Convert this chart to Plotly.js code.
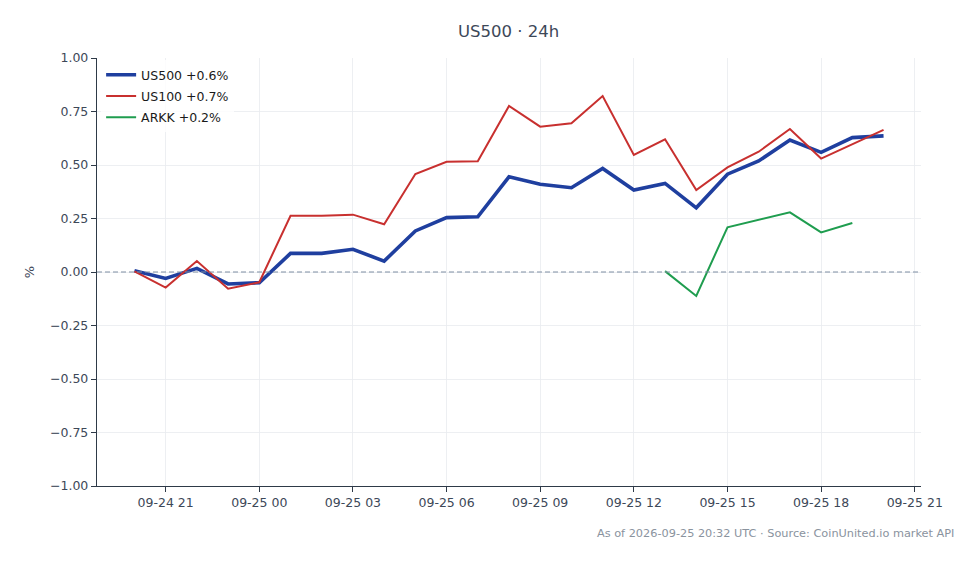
<!DOCTYPE html>
<html>
<head>
<meta charset="utf-8">
<script src="https://cdn.plot.ly/plotly-3.0.1.min.js"></script>
<style>
    html, body { margin: 0; padding: 0; background: #ffffff; }
    #plot { width: 978px; height: 564px; }
</style>
</head>
<body>
<div id="plot"></div>
<script>
// hourly points, 09-24 20:00 .. 09-25 20:00 UTC
const times = [
    "2026-09-24 20:00", "2026-09-24 21:00", "2026-09-24 22:00", "2026-09-24 23:00",
    "2026-09-25 00:00", "2026-09-25 01:00", "2026-09-25 02:00", "2026-09-25 03:00",
    "2026-09-25 04:00", "2026-09-25 05:00", "2026-09-25 06:00", "2026-09-25 07:00",
    "2026-09-25 08:00", "2026-09-25 09:00", "2026-09-25 10:00", "2026-09-25 11:00",
    "2026-09-25 12:00", "2026-09-25 13:00", "2026-09-25 14:00", "2026-09-25 15:00",
    "2026-09-25 16:00", "2026-09-25 17:00", "2026-09-25 18:00", "2026-09-25 19:00",
    "2026-09-25 20:00"
];

const us500 = [0.006, -0.030, 0.017, -0.056, -0.050, 0.087, 0.087, 0.106, 0.051, 0.192,
    0.254, 0.258, 0.445, 0.410, 0.394, 0.484, 0.383, 0.414, 0.300, 0.457,
    0.519, 0.617, 0.559, 0.628, 0.636];

const us100 = [0.003, -0.073, 0.051, -0.078, -0.048, 0.263, 0.263, 0.268, 0.223, 0.458,
    0.515, 0.517, 0.776, 0.679, 0.695, 0.822, 0.547, 0.620, 0.383, 0.489,
    0.562, 0.668, 0.530, 0.598, 0.664];

const arkk = [null, null, null, null, null, null, null, null, null, null,
    null, null, null, null, null, null, null, 0.004, -0.112, 0.209,
    0.243, 0.279, 0.185, 0.229, null];

const names = ["US500 +0.6%", "US100 +0.7%", "ARKK +0.2%"];
const colors = ["#1f3f9f", "#c8302f", "#1f9d4f"];
const widths = [3.6, 2, 2];

const y_ticks = [-1, -0.75, -0.5, -0.25, 0, 0.25, 0.5, 0.75, 1];
const x_ticks = [
    "2026-09-24 21:00", "2026-09-25 00:00", "2026-09-25 03:00", "2026-09-25 06:00",
    "2026-09-25 09:00", "2026-09-25 12:00", "2026-09-25 15:00", "2026-09-25 18:00",
    "2026-09-25 21:00"
];
const x_labels = ["09-24 21", "09-25 00", "09-25 03", "09-25 06", "09-25 09",
    "09-25 12", "09-25 15", "09-25 18", "09-25 21"];

const font_family = "DejaVu Sans, Verdana, sans-serif";
const tick_color = "#3d4858";

// one legend group per trace so tracegroupgap spaces the rows like the reference
let data = [us500, us100, arkk].map((ys, i) => ({
    x: times,
    y: ys,
    name: names[i],
    legendgroup: "g" + i,
    mode: "lines",
    line: {color: colors[i], width: widths[i]},
    connectgaps: false,
}));

let layout = {
    width: 978,
    height: 564,
    paper_bgcolor: "#ffffff",
    plot_bgcolor: "#ffffff",
    margin: {l: 97, r: 57, t: 58, b: 78},
    font: {family: font_family, color: tick_color, size: 12},
    title: {
        text: "US500 · 24h",
        x: 0.52,
        xanchor: "center",
        y: 0.945,
        yanchor: "middle",
        font: {family: font_family, size: 16.5, color: "#3d4858"},
    },
    showlegend: true,
    legend: {
        x: 0.005,
        y: 0.995,
        xanchor: "left",
        yanchor: "top",
        bgcolor: "rgba(255,255,255,0.8)",
        font: {family: font_family, size: 12.5, color: "#1a1a1a"},
        tracegroupgap: 2,
        itemwidth: 30,
    },
    xaxis: {
        type: "date",
        range: ["2026-09-24 18:48", "2026-09-25 21:12"],
        tickmode: "array",
        tickvals: x_ticks,
        ticktext: x_labels,
        ticks: "outside",
        ticklen: 5,
        tickcolor: "#2e3a48",
        showline: true,
        linecolor: "#2e3a48",
        linewidth: 1.2,
        showgrid: true,
        gridcolor: "#e8ebef",
        gridwidth: 0.8,
        zeroline: false,
        tickfont: {family: font_family, size: 12.5, color: tick_color},
    },
    yaxis: {
        range: [-1, 1],
        tickmode: "array",
        tickvals: y_ticks,
        tickformat: ".2f",
        ticks: "outside",
        ticklen: 5,
        tickcolor: "#2e3a48",
        showline: true,
        linecolor: "#2e3a48",
        linewidth: 1.2,
        showgrid: true,
        gridcolor: "#e8ebef",
        gridwidth: 0.8,
        zeroline: false,
        tickfont: {family: font_family, size: 12.5, color: tick_color},
        title: {text: "%", standoff: 12, font: {family: font_family, size: 13, color: tick_color}},
    },
    shapes: [{
        type: "line",
        xref: "paper",
        yref: "y",
        x0: 0, x1: 1,
        y0: 0, y1: 0,
        layer: "above",
        line: {color: "#8090a4", width: 1.2, dash: "5px,3px"},
    }],
    annotations: [{
        text: "As of 2026-09-25 20:32 UTC · Source: CoinUnited.io market API",
        xref: "paper",
        yref: "paper",
        x: 1.043,
        y: -0.11,
        xanchor: "right",
        yanchor: "middle",
        showarrow: false,
        font: {family: font_family, size: 11.3, color: "#8a939e"},
    }],
};

let config = {staticPlot: true};

Plotly.newPlot(document.getElementById("plot"), data, layout, config);
</script>
</body>
</html>
